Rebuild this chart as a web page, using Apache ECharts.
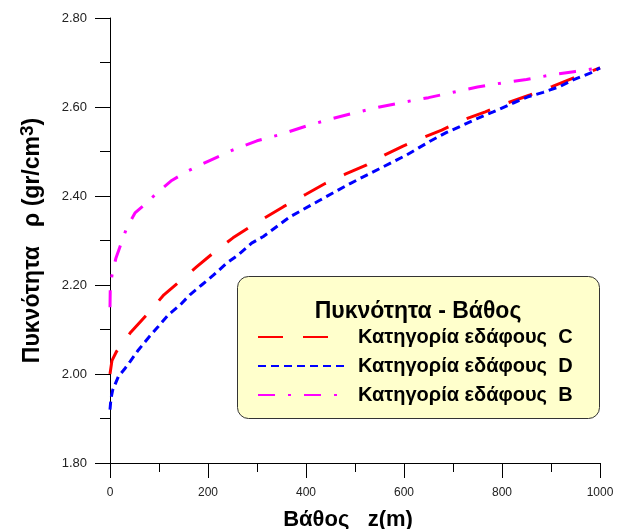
<!DOCTYPE html>
<html>
<head>
<meta charset="utf-8">
<script src="https://cdn.jsdelivr.net/npm/echarts@6/dist/echarts.min.js"></script>
<style>
  html, body { margin: 0; padding: 0; background: #fff; }
  #chart { width: 620px; height: 529px; }
</style>
</head>
<body>
<div id="chart"></div>
<script>
// depth (m) / density (gr/cm3)
const depthC = [0, 4, 13, 41, 75, 110, 141, 176, 214, 251, 290, 354, 400, 439, 480, 524, 560, 598, 636, 677, 721, 766, 813, 857, 902, 945, 1000]
const densC = [2.00, 2.03, 2.05, 2.092, 2.133, 2.178, 2.207, 2.24, 2.275, 2.306, 2.334, 2.376, 2.404, 2.428, 2.449, 2.470, 2.492, 2.512, 2.530, 2.548, 2.571, 2.589, 2.61, 2.627, 2.646, 2.665, 2.688]

const depthD = [0, 2, 5.5, 17, 31, 41, 58, 78, 98, 119, 143, 163, 187, 211, 238, 262, 289, 313, 367, 429, 490, 551, 605, 653, 687, 714, 749, 782, 823, 853, 884, 918, 945, 980, 1000]
const densD = [1.92, 1.945, 1.964, 1.994, 2.013, 2.028, 2.054, 2.081, 2.106, 2.133, 2.155, 2.178, 2.2, 2.222, 2.249, 2.268, 2.294, 2.309, 2.353, 2.391, 2.428, 2.462, 2.492, 2.523, 2.543, 2.556, 2.574, 2.589, 2.609, 2.623, 2.633, 2.646, 2.661, 2.676, 2.688]

const depthB = [0, 0.5, 4, 12, 20, 34, 51, 75, 99, 126, 160, 200, 250, 300, 350, 400, 450, 500, 550, 600, 650, 700, 750, 800, 850, 900, 950, 1000]
const densB = [2.15, 2.19, 2.222, 2.26, 2.285, 2.328, 2.362, 2.385, 2.41, 2.435, 2.457, 2.478, 2.503, 2.524, 2.539, 2.557, 2.573, 2.587, 2.60, 2.611, 2.621, 2.633, 2.645, 2.654, 2.662, 2.672, 2.68, 2.688]

const seriesNames = ['Κατηγορία εδάφους  C', 'Κατηγορία εδάφους  D', 'Κατηγορία εδάφους  B']
const yTicks = { min: 1.8, max: 2.8, step: 0.2 }
const xTicks = { min: 0, max: 1000, step: 200 }

const font = 'Arial, "Liberation Sans", sans-serif'

function pairs(xs, ys) {
  return xs.map((x, i) => [x, ys[i]])
}

const chart = echarts.init(document.getElementById('chart'))

const options = {
  animation: false,
  backgroundColor: '#fff',
  grid: {
    left: 110,
    right: 20,
    top: 18,
    bottom: 66,
    containLabel: false,
    outerBoundsMode: 'none'
  },
  xAxis: {
    type: 'value',
    min: xTicks.min,
    max: xTicks.max,
    interval: xTicks.step,
    name: 'Βάθος   z(m)',
    nameLocation: 'middle',
    nameGap: 46,
    nameTextStyle: {
      fontFamily: font,
      fontWeight: 'bold',
      fontSize: 22,
      color: '#000',
      padding: [0, 14, 0, 0]
    },
    axisLine: { lineStyle: { color: '#000', width: 1 } },
    axisTick: { show: true, length: 15, lineStyle: { color: '#000' } },
    minorTick: { show: true, splitNumber: 2, length: 9, lineStyle: { color: '#000' } },
    splitLine: { show: false },
    axisLabel: {
      margin: 24,
      fontFamily: font,
      fontSize: 12,
      color: '#222',
      formatter: v => String(v)
    }
  },
  yAxis: {
    type: 'value',
    min: yTicks.min,
    max: yTicks.max,
    interval: yTicks.step,
    name: '{t|Πυκνότητα   ρ (gr/cm}{s|3}{t|)}',
    nameLocation: 'middle',
    nameRotate: 90,
    nameGap: 63,
    nameTextStyle: {
      rich: {
        t: { fontFamily: font, fontWeight: 'bold', fontSize: 23, color: '#000' },
        s: { fontFamily: font, fontWeight: 'bold', fontSize: 19, color: '#000', padding: [0, 0, 10, 0] }
      }
    },
    axisLine: { show: true, lineStyle: { color: '#000', width: 1 } },
    axisTick: { show: true, length: 15, lineStyle: { color: '#000' } },
    minorTick: { show: true, splitNumber: 2, length: 10, lineStyle: { color: '#000' } },
    splitLine: { show: false },
    axisLabel: {
      margin: 23,
      fontFamily: font,
      fontSize: 13,
      color: '#222',
      formatter: v => v.toFixed(2)
    }
  },
  legend: {
    orient: 'vertical',
    left: 257,
    top: 327,
    padding: 0,
    itemWidth: 90,
    itemHeight: 14,
    itemGap: 9,
    z: 6,
    selectedMode: false,
    itemStyle: { opacity: 0 },
    textStyle: {
      fontFamily: font,
      fontWeight: 'bold',
      fontSize: 20,
      color: '#000',
      padding: [0, 0, 0, 5]
    },
    data: seriesNames
  },
  graphic: [
    {
      type: 'rect',
      z: 5,
      shape: { x: 237.5, y: 276.5, width: 362, height: 142, r: 11 },
      style: { fill: '#ffffcc', stroke: '#333', lineWidth: 1 }
    },
    {
      type: 'text',
      z: 7,
      x: 418,
      y: 312,
      style: {
        text: 'Πυκνότητα - Βάθος',
        fontFamily: font,
        fontWeight: 'bold',
        fontSize: 23,
        fill: '#000',
        align: 'center',
        verticalAlign: 'middle'
      }
    }
  ],
  series: [
    {
      name: seriesNames[0],
      type: 'line',
      symbol: 'none',
      data: pairs(depthC, densC),
      lineStyle: { color: '#ff0000', width: 3, type: [25, 20] },
      itemStyle: { color: '#ff0000' }
    },
    {
      name: seriesNames[1],
      type: 'line',
      symbol: 'none',
      data: pairs(depthD, densD),
      lineStyle: { color: '#0000ff', width: 3, type: [8, 5] },
      itemStyle: { color: '#0000ff' }
    },
    {
      name: seriesNames[2],
      type: 'line',
      symbol: 'none',
      data: pairs(depthB, densB),
      lineStyle: { color: '#ff00ff', width: 3, type: [17, 13, 3, 13] },
      itemStyle: { color: '#ff00ff' }
    }
  ]
}

chart.setOption(options)
</script>
</body>
</html>
